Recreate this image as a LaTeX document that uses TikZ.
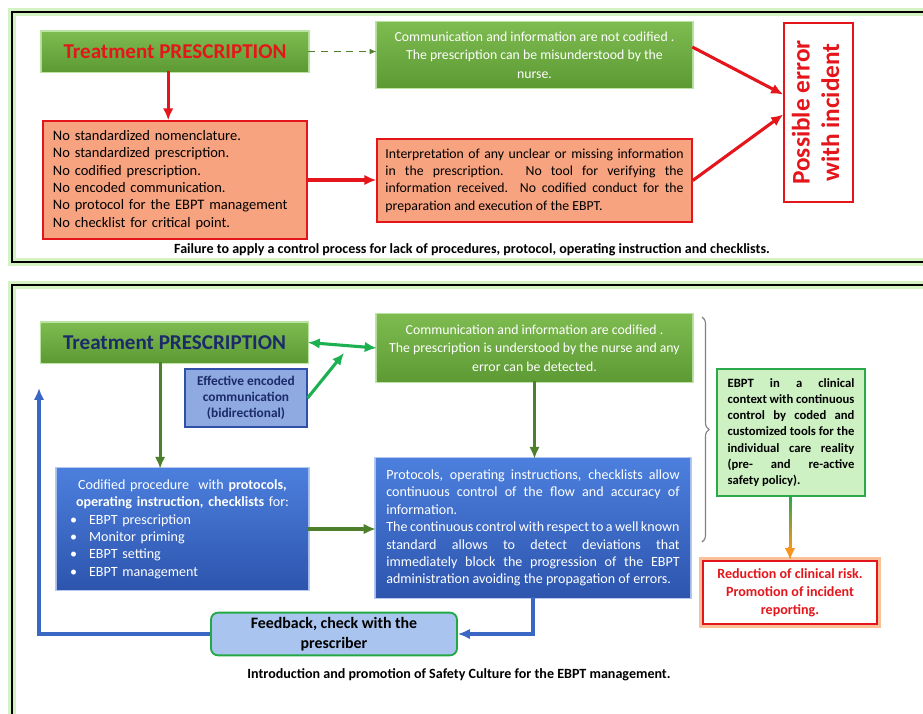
\documentclass[tikz,border=0pt]{standalone}
\usepackage{fontspec}
\setmainfont{Carlito}
\usetikzlibrary{arrows.meta,calc,decorations.pathreplacing}
\definecolor{greentop}{HTML}{7DBB50}
\definecolor{greenbot}{HTML}{5E9A34}
\definecolor{greenglow}{HTML}{B9E4A2}
\definecolor{salmon}{HTML}{F7A380}
\definecolor{redline}{HTML}{E4161B}
\definecolor{bluetop}{HTML}{4C7FDD}
\definecolor{bluebot}{HTML}{2D55AE}
\definecolor{blueglow}{HTML}{B4C8F0}
\definecolor{efffill}{HTML}{8FAAE0}
\definecolor{effdraw}{HTML}{2E50A8}
\definecolor{navy}{HTML}{1B2A6B}
\definecolor{fbfill}{HTML}{A9C4EF}
\definecolor{fbdraw}{HTML}{22A844}
\definecolor{ebptfill}{HTML}{CDF1C3}
\definecolor{ebptdraw}{HTML}{2BA84A}
\definecolor{orangeglow}{HTML}{F9C09A}
\definecolor{darkgreen}{HTML}{4E7F2A}
\definecolor{brightgreen}{HTML}{1DB050}
\definecolor{bluearr}{HTML}{3A66C4}
\definecolor{framegreen}{HTML}{D4F2C2}
\definecolor{arrorange}{HTML}{F7941D}
\hyphenpenalty=10000
\exhyphenpenalty=10000

\begin{document}
\begin{tikzpicture}[x=0.025cm,y=-0.025cm]
        \tikzset{greenbox/.style = {preaction={draw=greenglow,line width=2.4pt},top color=greentop,bottom color=greenbot,text=white,align=center,font=\fontsize{9.8}{13}\selectfont}}
        \tikzset{titlebox/.style = {greenbox,minimum width=6.65cm,minimum height=0.975cm,font=\fontsize{15}{18}\selectfont\bfseries}}
        \tikzset{orangebox/.style = {draw=redline,line width=1pt,fill=salmon,font=\fontsize{10.3}{12.3}\selectfont}}
        \tikzset{bluebox/.style = {preaction={draw=blueglow,line width=2.4pt},top color=bluetop,bottom color=bluebot,text=white,font=\fontsize{10}{12.4}\selectfont}}
        \tikzset{caption/.style = {font=\fontsize{10}{12}\selectfont\bfseries}}
        \tikzset{edge/.style = {->,>={Latex[length=8.5pt,width=7.5pt]},line width=2.2pt}}
        \tikzset{redarrow/.style = {edge,redline}}
        \tikzset{darkarrow/.style = {edge,darkgreen}}
        \tikzset{bluearrow/.style = {edge,bluearr}}
        \tikzset{greenarrow/.style = {edge,brightgreen}}
        \clip (0,0) rectangle (923,713);
        \fill[white] (0,0) rectangle (923,713);
        % frames
        \draw[framegreen,line width=5pt] (12,12) rectangle (940,262);
        \draw[black,line width=1.8pt] (12,12) rectangle (940,262);
        \draw[framegreen,line width=5pt] (12,285) rectangle (940,740);
        \draw[black,line width=1.8pt] (12,285) rectangle (940,740);
        % top vertices
        \node[titlebox,text=redline] (presc1) at (175,51.5) {Treatment PRESCRIPTION};
        \node[greenbox,minimum width=7.875cm,minimum height=1.6cm] (comm1) at (534.5,55) {Communication and information are not codified .\\The prescription can be misunderstood by the\\nurse.};
        \node[draw=redline,line width=1.6pt,fill=white,text=redline,minimum width=1.625cm,minimum height=4.475cm,font=\fontsize{18}{21}\selectfont\bfseries] (poss) at (818.5,112.5) {\rotatebox{90}{\begin{tabular}{@{}c@{}}Possible error\\with incident\end{tabular}}};
        \node[orangebox,minimum width=6.6cm,minimum height=2.95cm,text width=6.1cm,align=left] (fail1) at (175,180) {No standardized nomenclature.\\No standardized prescription.\\No codified prescription.\\No encoded communication.\\No protocol for the EBPT management\\No checklist for critical point.};
        \node[orangebox,minimum width=7.875cm,minimum height=2.075cm,text width=7.45cm,align=justify,font=\fontsize{9.8}{12.3}\selectfont] (interp) at (534.5,180.5) {Interpretation of any unclear or missing information\linebreak in the prescription. No tool for verifying the\linebreak information received. No codified conduct for the\linebreak preparation and execution of the EBPT.};
        \node[caption] (cap1) at (472,250) {Failure to apply a control process for lack of procedures, protocol, operating instruction and checklists.};
        % top edges
        \draw[redarrow] ([xshift=-0.17cm]presc1.south) -- ([xshift=-0.17cm]presc1.south |- fail1.north);
        \draw[->,>={Latex[length=5pt,width=4pt]},line width=1.3pt,darkgreen,dash pattern=on 5pt off 4pt] (presc1.east) -- (presc1.east -| comm1.west);
        \draw[redarrow] (fail1.east) -- (fail1.east -| interp.west);
        \draw[redarrow] ([yshift=0.2cm]comm1.east) -- ([yshift=0.45cm]poss.west);
        \draw[redarrow] (interp.east) -- ([yshift=-0.05cm]poss.west);
        % bottom vertices
        \node[titlebox,text=navy] (presc2) at (174.5,342.5) {Treatment PRESCRIPTION};
        \node[greenbox,minimum width=7.875cm,minimum height=1.65cm] (comm2) at (534.5,348) {Communication and information are codified .\\The prescription is understood by the nurse and any\\error can be detected.};
        \node[draw=effdraw,line width=0.8pt,fill=efffill,text=navy,align=center,minimum width=3.05cm,minimum height=1.45cm,font=\fontsize{9.5}{11.5}\selectfont\bfseries] (effc) at (246,398) {Effective encoded\\communication\\(bidirectional)};
        \node[bluebox,minimum width=6.275cm,minimum height=3cm,text width=5.9cm,align=left] (codif) at (182.5,529) {\makebox[5.9cm]{Codified procedure~ with \textbf{protocols,}}\\\makebox[5.9cm]{\textbf{operating instruction, checklists} for:}\\\hspace*{0.14cm}\textbullet\hspace{0.3cm}EBPT prescription\\\hspace*{0.14cm}\textbullet\hspace{0.3cm}Monitor priming\\\hspace*{0.14cm}\textbullet\hspace{0.3cm}EBPT setting\\\hspace*{0.14cm}\textbullet\hspace{0.3cm}EBPT management};
        \node[bluebox,minimum width=7.85cm,minimum height=3.45cm,text width=7.33cm,align=justify] (proto) at (533,528) {Protocols, operating instructions, checklists allow\linebreak continuous control of the flow and accuracy of\linebreak information.\\The continuous control with respect to a well known\linebreak standard allows to detect deviations that\linebreak immediately block the progression of the EBPT\linebreak administration avoiding the propagation of errors.};
        \node[draw=fbdraw,line width=1.3pt,fill=fbfill,rounded corners=5pt,align=center,minimum width=6.15cm,minimum height=1.05cm,font=\fontsize{11.3}{14}\selectfont\bfseries] (feed) at (334,634) {Feedback, check with the\\prescriber};
        \node[draw=ebptdraw,line width=1.2pt,fill=ebptfill,text width=3.17cm,align=justify,minimum width=3.7cm,minimum height=3.175cm,font=\fontsize{9}{11.5}\selectfont\bfseries] (ebpt) at (791,432.5) {EBPT in a clinical\linebreak context with continuous\linebreak control by coded and\linebreak customized tools for the\linebreak individual care reality\linebreak (pre- and re-active\linebreak safety policy).};
        \node[preaction={draw=orangeglow,line width=5pt},draw=redline,line width=1.2pt,fill=white,text=redline,align=center,minimum width=4.35cm,minimum height=1.575cm,font=\fontsize{10}{12.8}\selectfont\bfseries] (reduc) at (790,592.5) {Reduction of clinical risk.\\Promotion of incident\\reporting.};
        \node[caption] (cap2) at (459,675) {Introduction and promotion of Safety Culture for the EBPT management.};
        \coordinate (meet) at (344,353);
        \coordinate (back) at (39,388);
        \coordinate (btop) at (702,317);
        \coordinate (bbot) at (702,542);
        % bottom edges
        \draw[greenarrow,<->] (presc2.east) -- (comm2.west);
        \draw[greenarrow] (effc.east) -- (meet);
        \draw[darkarrow] ([xshift=-0.36cm]presc2.south) -- ([xshift=-0.36cm]presc2.south |- codif.north);
        \draw[darkarrow] (codif.east) -- (codif.east -| proto.west);
        \draw[darkarrow] (comm2.south) -- (comm2.south |- proto.north);
        \draw[bluearrow] (proto.south) |- (feed.east);
        \draw[bluearrow] (feed.west) -| (back);
        \draw[decorate,decoration={brace,amplitude=5pt},gray,line width=0.8pt] (btop) -- (bbot);
        \shade[top color=ebptdraw,bottom color=arrorange] ([xshift=-1.1pt]ebpt.south) rectangle ([xshift=1.1pt,yshift=0.3cm]reduc.north);
        \draw[edge,arrorange] ([yshift=0.32cm]reduc.north) -- (reduc.north);
\end{tikzpicture}
\end{document}
